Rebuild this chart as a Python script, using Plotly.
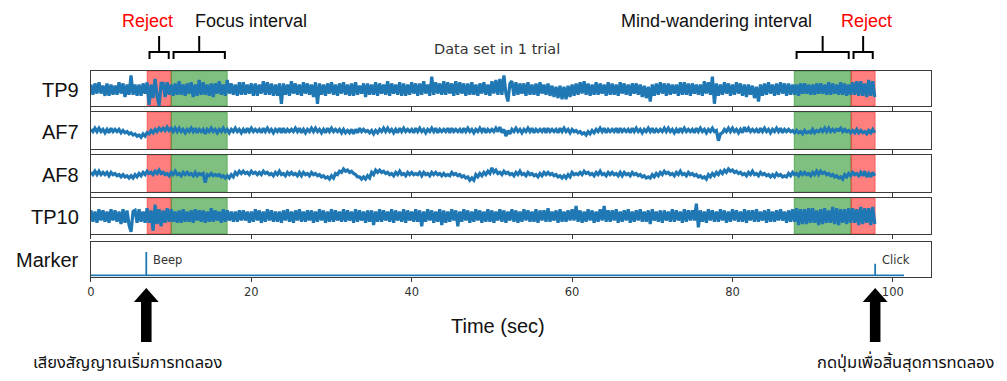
import numpy as np
import plotly.graph_objects as go

# ---------------------------------------------------------------- data
SAMPLE_STEP = 0.25  # seconds between plotted samples

TP9 = [
    4,-5,5,-4, 6,-4,3,-6, 5,-6,4,-5, 3,-5,6,-4, 5,-7,4,-5,
    12,-5,4,-6, 4,-6,5,-4, 6,-14,4,-8, 9,-6,-15,5, 5,-7,6,-5,
    4,-6,5,-5, 7,-5,4,-6, 5,-4,6,-7, 4,-6,8,-5, 6,-5,4,-6,
    5,-7,5,-4, 7,-5,4,-6, 8,-4,5,-5, 4,-6,6,-5, 6,-5,4,-4,
    5,-6,5,-6, 4,-4,7,-5, 6,-5,5,-6, 4,-6,5,-13, 5,-5,4,-6,
    7,-4,5,-5, 4,-6,6,-4, 5,-5,4,-7, 6,-13,5,-5, 4,-6,5,-4,
    6,-5,4,-6, 5,-4,6,-5, 4,-6,5,-6, 6,-5,3,-4, 5,-7,5,-5,
    4,-5,6,-6, 5,-4,4,-5, 7,-6,5,-4, 4,-5,6,-6, 5,-6,4,-5,
    6,-4,5,-6, 5,-5,7,-4, 4,-6,11,-5, 6,-4,5,-5, 7,-5,6,-4,
    5,-6,7,-5, 6,-4,5,-6, 5,-5,6,-5, 4,-6,5,-4, 6,-5,4,-6,
    7,-4,8,-5, 9,-5,12,-4, -11,5,7,-6, 6,-5,5,-4, 5,-6,6,-5,
    4,-5,5,-6, 6,-4,4,-5, 5,-6,3,-7, 2,-8,3,-9, 2,-9,3,-7,
    4,-6,5,-5, 6,-4,7,-5, 5,-6,4,-5, 6,-5,5,-4, 4,-6,6,-5,
    5,-5,4,-6, 6,-4,5,-5, 4,-6,5,-4, 5,-5,4,-7, 3,-8,2,-11,
    4,-6,5,-5, 6,-4,5,-6, 5,-5,4,-4, 4,-6,6,-5, 6,-5,5,-6,
    5,-4,4,-5, 4,-6,7,-4, 6,-5,11,-13, 5,-6,4,-5, 6,-4,5,-6,
    4,-5,6,-4, 5,-6,4,-7, 4,-5,3,-8, 2,-11,4,-6, 5,-5,6,-4,
    4,-6,5,-5, 6,-4,5,-6, 5,-5,4,-5, 4,-6,5,-4, 5,-4,4,-5,
    4,-5,5,-4, 5,-4,4,-5, 6,-5,5,-4, 4,-5,6,-5, 5,-6,4,-5,
    6,-5,7,-6, 7,-6,5,-7, 8,-6,7,-7,
]

AF7 = [
    1,-1,2,-1, 2,-1,1,-2, 1,-2,2,-1, 1,-1,1,-2, 0,-2,-1,-3,
    -2,-4,-3,-5, -4,-6,-3,-5, -2,-3,0,-2, 1,-1,2,0, 2,0,3,0,
    2,-1,2,-1, 2,-1,1,-2, 1,-1,2,-1, 2,-2,1,-1, 1,-3,1,-1,
    2,-1,1,-2, 1,-1,2,-1, 1,-2,1,-1, 2,-1,1,-2, 1,-2,2,-1,
    2,-1,1,-1, 1,-2,2,-1, 2,-1,1,-2, 1,-1,2,-2, 2,-2,1,-1,
    1,-1,2,-1, 2,-2,1,-2, 1,-1,2,-1, 2,-1,1,-2, 1,-2,2,-1,
    2,-1,1,-1, 1,-2,1,-2, 0,-2,1,-3, 1,-2,2,-1, 1,-1,0,-2,
    0,-3,0,-2, 1,-1,2,-1, 2,-1,1,-2, 1,-2,2,-1, 2,-1,1,-1,
    1,-2,2,-1, 2,-1,1,-2, 1,-1,2,-1, 2,-2,1,-1, 1,-1,2,-2,
    2,-1,1,-1, 1,-2,2,-1, 2,-1,1,-2, 1,-1,2,-1, 2,-2,1,-1,
    1,-1,2,-1, 3,-2,1,-5, 0,-3,1,-1, 2,-1,1,-2, 1,-1,2,-1,
    2,-2,1,-1, 1,-1,2,-2, 2,-1,1,-1, 1,-2,2,-1, 2,-1,1,-2,
    1,-1,0,-2, -1,-3,-2,-4, -1,-3,0,-2, 1,-1,2,-1, 2,-2,1,-1,
    1,-1,2,-2, 2,-1,1,-1, 1,-2,2,-1, 2,-1,1,-2, 1,-1,2,-1,
    2,-2,1,-1, 1,-1,2,-1, 2,-1,1,-2, 1,-2,2,-1, 2,-1,1,-1,
    1,-2,2,-1, 2,-1,1,-2, 1,-1,2,-1, 0,-9,-3,-2, 1,-1,2,-1,
    2,-1,1,-2, 1,-2,3,-1, 2,-1,1,-1, 1,-2,2,-1, 2,-1,1,-2,
    1,-1,2,-1, 2,-2,1,-1, 1,-1,0,-2, 0,-2,-1,-3, 0,-2,-1,-2,
    1,-2,0,-1, 1,-1,2,-1, 2,-1,1,-1, 1,0,2,-1, 1,-1,0,-2,
    0,-2,1,-2, 0,-2,-1,-3, 0,-2,1,-2,
]

AF8 = [
    1,-1,2,-1, 2,-1,1,-1, 1,-2,1,-1, 0,-2,-1,-3, -1,-3,-2,-4,
    -2,-4,-1,-3, 0,-2,1,-1, 2,0,1,-1, 2,0,3,0, 1,-1,0,-2,
    1,-1,2,-1, 0,-2,1,-1, 1,-1,0,-2, 1,-2,0,-1, 0,-8,-1,-2,
    0,-2,-1,-2, -1,-3,-2,-4, -2,-4,-1,-3, 1,-1,2,0, 2,0,1,-1,
    2,0,1,-1, 1,-1,2,0, 1,-1,0,-2, 1,-1,2,-1, 0,-2,1,-1,
    1,-1,0,-2, 1,-2,1,-1, 0,-2,1,-1, 0,-2,-1,-3, -2,-4,-3,-5,
    -2,-4,0,-1, 2,1,4,2, 3,1,2,0, -1,-3,-3,-5, -3,-5,-2,-4,
    1,-1,3,1, 3,1,2,0, 1,-1,0,-2, 1,-1,2,-1, 0,-2,1,-1,
    1,-1,0,-1, 1,-2,1,-1, 0,-2,1,-1, 1,-1,0,-2, 0,-2,-1,-2,
    1,-1,0,-2, -1,-3,-2,-4, -3,-6,-4,-6, -1,-3,0,-2, 1,-1,2,0,
    5,1,3,0, 1,-1,2,0, 1,-1,0,-2, 1,-1,2,-1, 0,-2,1,-1,
    0,-2,-1,-3, 0,-2,1,-1, 1,-1,0,-2, -1,-3,-2,-4, -2,-4,-1,-3,
    1,-1,0,-1, 1,-1,2,0, 1,-1,0,-2, 1,-1,2,-1, 0,-2,1,-1,
    1,-1,0,-2, 1,-2,1,-1, 0,-2,1,-1, 0,-2,-1,-3, -2,-4,-3,-4,
    -1,-3,0,-2, 1,-1,2,0, 1,-1,0,-2, 1,-1,2,-1, 0,-2,1,-1,
    0,-2,-1,-3, -2,-4,-3,-5, -1,-3,0,-2, 1,-1,2,0, 3,1,4,2,
    3,1,2,0, 1,-1,0,-2, 1,-1,2,-1, 0,-2,1,-1, 0,-2,-1,-3,
    -1,-3,0,-2, -1,-3,-2,-3, 0,-2,1,-1, 0,-2,1,-1, 1,-1,0,-2,
    1,-1,2,-1, 2,0,1,-1, 0,-2,-1,-3, -2,-4,-3,-5, -1,-3,0,-2,
    1,-1,0,-2, 1,-2,2,-3, 0,-3,1,-2,
]

TP10 = [
    5,-5,4,-6, 6,-4,5,-5, 4,-6,6,-4, 5,-5,4,-7, 6,-6,5,-8,
    -14,4,5,-6, 6,-5,4,-6, 7,-6,5,-13, 10,-7,6,-9, 5,-6,7,-5,
    6,-5,4,-6, 5,-6,6,-5, 4,-5,5,-6, 6,-4,5,-5, 5,-6,4,-5,
    7,-5,5,-4, 4,-6,6,-5, 5,-4,4,-5, 4,-5,5,-4, 5,-4,4,-6,
    4,-5,6,-4, 5,-6,4,-5, 6,-4,5,-5, 4,-5,4,-6, 5,-4,6,-5,
    4,-6,5,-4, 6,-5,4,-5, 5,-4,5,-6, 4,-5,6,-4, 5,-6,4,-5,
    6,-5,5,-4, 4,-5,6,-5, 5,-4,4,-6, 6,-5,5,-4, 4,-6,5,-5,
    5,-8,4,-5, 6,-5,5,-4, 4,-5,6,-6, 5,-4,4,-5, 6,-6,5,-4,
    4,-5,6,-5, 5,-9,4,-5, 6,-4,5,-6, 4,-5,6,-8, 5,-6,4,-5,
    6,-4,5,-9, 4,-5,6,-4, 5,-6,4,-5, 6,-4,5,-6, 4,-5,6,-5,
    5,-6,4,-4, 6,-5,5,-6, 4,-4,6,-5, 5,-6,4,-5, 6,-4,5,-5,
    4,-5,6,-6, 5,-4,5,-5, 7,-5,4,-4, 5,-6,6,-5, 4,-5,5,-4,
    6,-4,9,-5, 5,-6,4,-5, 6,-4,5,-6, 4,-5,6,-4, 9,-5,5,-5,
    5,-4,6,-6, 4,-5,5,-4, 6,-6,4,-5, 5,-4,6,-5, 4,-5,5,-7,
    6,-4,4,-5, 5,-6,5,-4, 4,-5,6,-5, 5,-4,4,-6, 6,-5,5,-4,
    5,-4,11,-10, 5,-5,4,-6, 6,-4,5,-5, 4,-5,6,-4, 5,-6,4,-5,
    6,-4,5,-5, 4,-5,6,-6, 5,-4,5,-5, 6,-5,4,-4, 5,-6,6,-5,
    4,-5,5,-4, 6,-4,4,-6, 5,-5,6,-5, 7,-8,6,-7, 6,-7,7,-6,
    7,-6,5,-8, 6,-7,7,-6, 5,-6,8,-7, 7,-8,6,-6, 6,-7,7,-6,
    7,-6,6,-8, 8,-7,7,-6, 7,-8,8,-7,
]

CHANNELS = ["TP9", "AF7", "AF8", "TP10"]
SIGNALS = [TP9, AF7, AF8, TP10]

# marker channel: event onsets (s), event codes and names
EVENT_TIMES = [6.9, 97.8]
EVENT_CODES = [2, 1]
EVENT_NAMES = ["Beep", "Click"]
MARKER_END = 101.4

# labelled intervals (start, end, kind)
INTERVALS = [(7.0, 10.0, "reject"), (10.0, 17.0, "focus"),
             (87.7, 94.8, "mind"), (94.8, 97.8, "reject")]
INTERVAL_TITLES = {"reject": "Reject", "focus": "Focus interval",
                   "mind": "Mind-wandering interval"}
TIME_TICKS = [0, 20, 40, 60, 80, 100]

# ---------------------------------------------------------------- layout helpers
W, H = 1007, 381
BLUE = "#1f77b4"
FRAME = "#3c3c3c"


def px_x(p):
    return p / W


def px_y(p):
    return 1 - p / H


X_DOMAIN = [px_x(87.3), px_x(931)]
X_RANGE = [0, 104.8]
# panel tops / bottoms in pixels and value ranges
PANEL_PX = [(71, 106), (112.3, 149.3), (155.3, 191.7), (198.3, 234), (241.7, 276.7)]
PANEL_RANGES = [[-15, 16], [-16.6, 16.1], [-16.1, 16.1], [-15.9, 15.7], [-0.12, 2.88]]
PANEL_NAMES = CHANNELS + ["Marker"]

fig = go.Figure()

for i, (name, vals) in enumerate(zip(CHANNELS, SIGNALS), start=1):
    t = np.arange(len(vals)) * SAMPLE_STEP
    fig.add_trace(go.Scatter(
        x=t, y=vals, mode="lines",
        line=dict(color=BLUE, width=3.2, simplify=False),
        xaxis="x" if i == 1 else f"x{i}", yaxis="y" if i == 1 else f"y{i}",
        showlegend=False, hoverinfo="skip"))

# marker stem line
mx, my = [0.0], [0.0]
for et, code in zip(EVENT_TIMES, EVENT_CODES):
    mx += [et, et, et]
    my += [0, code, 0]
mx.append(MARKER_END)
my.append(0)
fig.add_trace(go.Scatter(x=mx, y=my, mode="lines",
                         line=dict(color=BLUE, width=1.8, simplify=False),
                         xaxis="x5", yaxis="y5", showlegend=False, hoverinfo="skip"))

layout = dict(
    width=W, height=H, margin=dict(l=0, r=0, t=0, b=0, pad=0),
    paper_bgcolor="white", plot_bgcolor="white", showlegend=False,
    font=dict(family="DejaVu Sans", color="#333"),
)

for i in range(1, 6):
    xk = "xaxis" if i == 1 else f"xaxis{i}"
    yk = "yaxis" if i == 1 else f"yaxis{i}"
    top, bot = PANEL_PX[i - 1]
    layout[xk] = dict(
        domain=X_DOMAIN, range=X_RANGE, anchor="y" if i == 1 else f"y{i}",
        showline=True, mirror=True, linecolor=FRAME, linewidth=1.2,
        ticks="outside", ticklen=4, tickcolor=FRAME, tickwidth=1,
        tickvals=TIME_TICKS, showticklabels=(i == 5),
        tickfont=dict(family="DejaVu Sans", size=11.5, color="#333"),
        showgrid=False, zeroline=False,
    )
    if i > 1:
        layout[xk]["matches"] = "x"
    layout[yk] = dict(
        domain=[px_y(bot), px_y(top)], range=PANEL_RANGES[i - 1],
        anchor="x" if i == 1 else f"x{i}",
        showline=True, mirror=True, linecolor=FRAME, linewidth=1.2,
        showticklabels=False, ticks="", showgrid=False, zeroline=False,
    )

fig.update_layout(**layout)

# shaded intervals on every panel
FILL = {"reject": "rgba(255,0,0,0.5)", "focus": "rgba(0,128,0,0.5)", "mind": "rgba(0,128,0,0.5)"}
shapes = []
for i in range(1, 5):
    xr = "x" if i == 1 else f"x{i}"
    yr = ("y" if i == 1 else f"y{i}") + " domain"
    for x0, x1, kind in INTERVALS:
        shapes.append(dict(type="rect", xref=xr, yref=yr, x0=x0, x1=x1, y0=0, y1=1,
                           fillcolor=FILL[kind], line=dict(color=FILL[kind], width=0.8),
                           layer="below"))

# brackets above the top panel
y_end, y_bar, y_stem = px_y(59), px_y(52), px_y(36)
for x0, x1, kind in INTERVALS:
    a, b = x0 + 0.3, x1 - 0.3
    m = (a + b) / 2
    path = (f"M {a},{y_end} L {a},{y_bar} L {b},{y_bar} L {b},{y_end} "
            f"M {m},{y_bar} L {m},{y_stem}")
    shapes.append(dict(type="path", xref="x", yref="paper", path=path,
                       line=dict(color="black", width=2)))

# event arrows under the time axis
tip, base, tail = px_y(288), px_y(302), px_y(342)
head_w, shaft_w = 1.55, 0.66
for et in EVENT_TIMES:
    path = (f"M {et},{tip} L {et + head_w},{base} L {et + shaft_w},{base} "
            f"L {et + shaft_w},{tail} L {et - shaft_w},{tail} L {et - shaft_w},{base} "
            f"L {et - head_w},{base} Z")
    shapes.append(dict(type="path", xref="x5", yref="paper", path=path,
                       fillcolor="black", line=dict(color="black", width=0)))

fig.update_layout(shapes=shapes)

ann = []
# channel names
for i, name in enumerate(PANEL_NAMES):
    top, bot = PANEL_PX[i]
    ann.append(dict(text=name, x=px_x(77), y=px_y((top + bot) / 2 + 1), xref="paper", yref="paper",
                    xanchor="right", yanchor="middle", showarrow=False,
                    font=dict(family="Arial", size=20, color="#111")))

# interval titles
title_pos = [(144, "red"), (248, "#111"), (715, "#111"), (866, "red")]
for (x0, x1, kind), (cx, col) in zip(INTERVALS, title_pos):
    ann.append(dict(text=INTERVAL_TITLES[kind], x=px_x(cx), y=px_y(21), xref="paper", yref="paper",
                    xanchor="center", yanchor="middle", showarrow=False,
                    font=dict(family="Arial", size=18, color=col)))

ann.append(dict(text="Data set in 1 trial", x=px_x(495), y=px_y(49), xref="paper", yref="paper",
                xanchor="center", yanchor="middle", showarrow=False,
                font=dict(family="DejaVu Sans", size=14.5, color="#333")))
ann.append(dict(text="Time (sec)", x=px_x(496), y=px_y(326), xref="paper", yref="paper",
                xanchor="center", yanchor="middle", showarrow=False,
                font=dict(family="Arial", size=20, color="#111")))

# event names in the marker panel
for et, name in zip(EVENT_TIMES, EVENT_NAMES):
    ann.append(dict(text=name, x=et + 0.6, y=1.3, xref="x5", yref="y5",
                    xanchor="left", yanchor="middle", showarrow=False,
                    font=dict(family="DejaVu Sans", size=11.5, color="#333")))

THAI = "Noto Sans Thai, Leelawadee UI, Tahoma, sans-serif"
ann.append(dict(text="เสียงสัญญาณเริ่มการทดลอง", x=px_x(124), y=px_y(362), xref="paper", yref="paper",
                xanchor="center", yanchor="middle", showarrow=False,
                font=dict(family=THAI, size=16.5, color="#111")))
ann.append(dict(text="กดปุ่มเพื่อสิ้นสุดการทดลอง", x=px_x(905), y=px_y(362), xref="paper", yref="paper",
                xanchor="center", yanchor="middle", showarrow=False,
                font=dict(family=THAI, size=16.5, color="#111")))

fig.update_layout(annotations=ann)
fig.write_html("out.html")
